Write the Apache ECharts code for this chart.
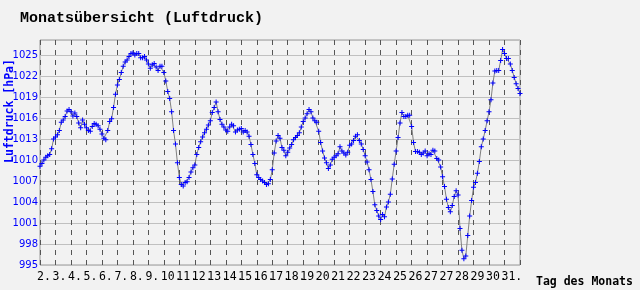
<!DOCTYPE html>
<html>
<head>
<meta charset="utf-8">
<script src="https://cdn.jsdelivr.net/npm/echarts@6/dist/echarts.min.js"></script>
<style>
html,body{margin:0;padding:0;background:#f2f2f2;}
#chart{width:640px;height:290px;}
</style>
</head>
<body>
<div id="chart"></div>
<script>
// ---- data ----
const titleText = "Monatsübersicht (Luftdruck)";
const yAxisTitle = "Luftdruck [hPa]";
const xAxisTitle = "Tag des Monats";
const dayLabels = ["2.","3.","4.","5.","6.","7.","8.","9.","10.","11.","12.","13.","14.","15.","16.","17.","18.","19.","20.","21.","22.","23.","24.","25.","26.","27.","27.","28.","29.","30.","31."];
const yTicks = [995, 998, 1001, 1004, 1007, 1010, 1013, 1016, 1019, 1022, 1025];
const PTS_PER_DAY = 8; // one reading every 3 hours
const pressure = [
  1009.1, 1009.5, 1010.0, 1010.4, 1010.6, 1010.8, 1011.6, 1013.0,
  1013.3, 1013.6, 1014.2, 1015.4, 1015.7, 1016.2, 1017.0, 1017.2,
  1016.9, 1016.3, 1016.7, 1016.2, 1015.3, 1014.6, 1015.7, 1015.1,
  1014.6, 1014.2, 1014.1, 1014.8, 1015.2, 1015.1, 1014.9, 1014.4,
  1013.7, 1013.1, 1012.9, 1014.2, 1015.5, 1015.9, 1017.5, 1019.4,
  1020.7, 1021.5, 1022.5, 1023.4, 1024.0, 1024.3, 1024.8, 1025.2,
  1025.3, 1025.0, 1025.2, 1025.2, 1024.6, 1024.6, 1024.8, 1024.3,
  1023.7, 1023.1, 1023.6, 1023.8, 1023.3, 1022.8, 1023.4, 1023.4,
  1022.5, 1021.3, 1019.8, 1018.8, 1016.9, 1014.2, 1012.3, 1009.6,
  1007.5, 1006.5, 1006.3, 1006.8, 1006.9, 1007.5, 1008.3, 1008.9,
  1009.3, 1010.8, 1011.8, 1012.6, 1013.3, 1013.9, 1014.4, 1015.0,
  1015.6, 1016.8, 1017.5, 1018.3, 1016.9, 1015.8, 1015.1, 1014.7,
  1014.3, 1014.1, 1014.7, 1015.1, 1014.9, 1014.0, 1014.3, 1014.4,
  1014.5, 1014.0, 1014.2, 1014.0, 1013.4, 1012.2, 1010.8, 1009.5,
  1007.9, 1007.5, 1007.2, 1007.0, 1006.8, 1006.5, 1006.6, 1007.2,
  1008.6, 1011.0, 1012.7, 1013.5, 1013.1, 1011.8, 1011.4, 1010.6,
  1011.1, 1011.7, 1012.2, 1012.9, 1013.2, 1013.5, 1013.9, 1014.7,
  1015.5, 1016.0, 1016.6, 1017.2, 1016.9, 1016.0, 1015.6, 1015.4,
  1014.1, 1012.5, 1011.3, 1010.3, 1009.6, 1008.8, 1009.3, 1010.1,
  1010.4, 1010.6, 1010.9, 1011.9, 1011.3, 1011.0, 1010.7, 1011.1,
  1012.1, 1012.3, 1012.8, 1013.4, 1013.6, 1012.8, 1012.3, 1011.5,
  1010.6, 1009.7, 1008.6, 1007.2, 1005.5, 1003.6, 1002.8, 1002.0,
  1001.5, 1002.2, 1001.9, 1003.3, 1004.0, 1005.1, 1007.3, 1009.4,
  1011.3, 1013.2, 1015.3, 1016.8, 1016.2, 1016.2, 1016.4, 1016.4,
  1014.8, 1012.5, 1011.2, 1011.2, 1011.1, 1010.8, 1011.0, 1011.3,
  1010.6, 1010.9, 1010.8, 1011.4, 1011.3, 1010.2, 1010.0, 1009.0,
  1007.6, 1006.2, 1004.4, 1003.2, 1002.6, 1003.5, 1004.8, 1005.6,
  1005.0, 1000.2, 997.1, 995.9, 996.3, 999.2, 1002.0, 1004.2,
  1006.1, 1006.8, 1008.1, 1009.8, 1011.9, 1013.0, 1014.2, 1015.6,
  1016.9, 1018.6, 1021.0, 1022.7, 1022.8, 1022.8, 1024.2, 1025.8,
  1025.2, 1024.5, 1024.5, 1023.7, 1022.8, 1021.8, 1020.9, 1020.2,
  1019.5
];

// ---- chart ----
const chart = echarts.init(document.getElementById('chart'), null, {renderer: 'canvas'});
const seriesData = pressure.map((v, i) => [i / PTS_PER_DAY, v]);
const yStep = yTicks[1] - yTicks[0];
const plotTop = 40, plotBottom = 265;
const yMax = yTicks[0] + (plotBottom - plotTop) / 21 * yStep;
const mono = '"DejaVu Sans Mono", monospace';

chart.setOption({
  animation: false,
  backgroundColor: '#f2f2f2',
  title: {
    text: titleText,
    left: 15, top: 6,
    textStyle: {fontFamily: '"Liberation Mono", monospace', fontSize: 15, fontWeight: 'bold', color: '#000'}
  },
  grid: {left: 40, top: plotTop, right: 120, bottom: 290 - plotBottom, show: true, borderColor: '#999', borderWidth: 1, backgroundColor: 'transparent'},
  xAxis: {
    type: 'value', min: 0, max: dayLabels.length, interval: 1,
    axisLine: {show: false}, axisTick: {show: false},
    splitLine: {show: true, lineStyle: {color: '#555', width: 1, type: [5, 5]}},
    axisLabel: {
      show: true, margin: 6, align: 'left', padding: [0, 0, 0, -3],
      fontFamily: mono, fontSize: 11.5, color: '#000',
      showMaxLabel: true, showMinLabel: true,
      formatter: v => (dayLabels[Math.round(v)] !== undefined ? dayLabels[Math.round(v)] : '')
    }
  },
  yAxis: {
    type: 'value', min: yTicks[0], max: yMax, interval: yStep,
    axisLine: {show: false}, axisTick: {show: false},
    splitLine: {show: true, lineStyle: {color: '#c0c0c0', width: 1}},
    axisLabel: {
      margin: 2, fontFamily: '"DejaVu Sans", sans-serif', fontSize: 10, color: '#0000ff',
      formatter: v => (yTicks.indexOf(Math.round(v * 1000) / 1000) >= 0 ? String(v) : '')
    }
  },
  graphic: [
    {type: 'text', x: 10, y: 111, rotation: Math.PI / 2,
     style: {text: yAxisTitle, fontFamily: mono, fontSize: 11.5, fontWeight: 'bold', fill: '#0000ff', align: 'center', verticalAlign: 'middle'}},
    {type: 'text', x: 536, y: 282,
     style: {text: xAxisTitle, fontFamily: mono, fontSize: 11.5, fontWeight: 'bold', fill: '#000', align: 'left', verticalAlign: 'middle'}}
  ],
  series: [{
    type: 'line',
    data: seriesData,
    showAllSymbol: true,
    symbol: 'path://M2,0L3,0L3,2L5,2L5,3L3,3L3,5L2,5L2,3L0,3L0,2L2,2Z',
    symbolSize: 5,
    itemStyle: {color: '#0000ff', borderWidth: 0},
    lineStyle: {color: '#808080', width: 1},
    z: 3
  }]
});
</script>
</body>
</html>
